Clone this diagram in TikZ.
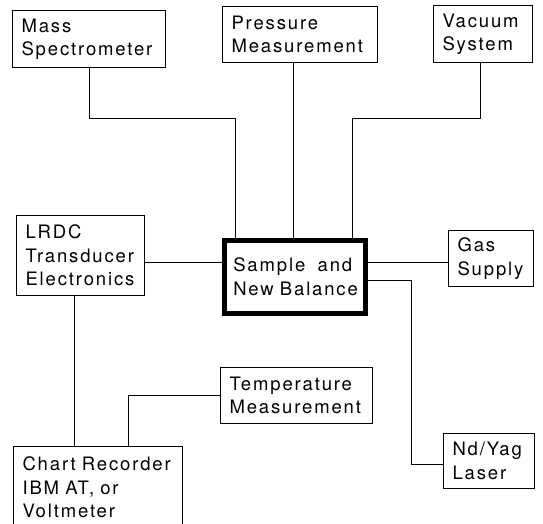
\documentclass[tikz,border=0pt]{standalone}
\usepackage{fontspec}
\newfontfamily\boxfont{TeX Gyre Heros}[LetterSpace=10]
\usetikzlibrary{positioning}

\begin{document}
\begin{tikzpicture}[x=1pt, y=-1pt,
  unit/.style={draw, line width=1.1pt, anchor=north west, align=left,
    inner xsep=9pt, inner ysep=0pt, font=\boxfont\fontsize{18.5}{23.5}\selectfont},
  core/.style={unit, line width=4.5pt},
  wire/.style={line width=1.1pt}]

  \useasboundingbox (0,0) rectangle (543,523);

  % --- Top row ---
  \node[unit, text width=135pt, minimum height=57pt] (mass) at (12,10) {Mass\\Spectrometer};
  \node[unit, text width=137pt, minimum height=56pt] (press) at (222,6) {Pressure\\Measurement};
  \node[unit, text width=81pt, minimum height=57pt] (vac) at (433,5) {Vacuum\\System};

  % --- Middle row ---
  \node[unit, text width=110pt, minimum height=80pt] (lrdc) at (16,215) {LRDC\\Transducer\\Electronics};
  \node[core, text width=123pt, minimum height=73pt] (sample) at (222,238) {Sample\ \ and\\New Balance};
  \node[unit, text width=67pt, minimum height=56pt] (gas) at (448,230) {Gas\\Supply};

  % --- Bottom ---
  \node[unit, text width=134pt, minimum height=56pt] (temp) at (220,367) {Temperature\\Measurement};
  \node[unit, text width=73pt, minimum height=55pt] (laser) at (443,433) {Nd/Yag\\Laser};
  \node[unit, text width=151pt, minimum height=82pt] (chart) at (13,446) {Chart Recorder\\IBM AT, or\\Voltmeter};

  % --- Connections to the balance ---
  \draw[wire] (mass.south) -- ++(0,50) -| ([xshift=-59.5pt]sample.north);
  \draw[wire] ([xshift=-6.5pt]press.south) -- ([xshift=-6.5pt]press.south |- sample.north);
  \draw[wire] ([xshift=-2.5pt]vac.south) -- ++(0,55) -| ([xshift=57.5pt]sample.north);
  \draw[wire] ([yshift=-7pt]lrdc.east) -- ([yshift=-7pt]lrdc.east -| sample.west);
  \draw[wire] ([yshift=-4pt]gas.west -| sample.east) -- ([yshift=-4pt]gas.west);
  \draw[wire] ([yshift=-4pt]sample.east) -- ++(44,0) |- ([yshift=-3pt]laser.west);

  % --- Recorder side ---
  \draw[wire] ([xshift=-6.5pt]lrdc.south) -- ([xshift=-6.5pt]lrdc.south |- chart.north);
  \draw[wire] (temp.west) -| ([xshift=30.5pt]chart.north);

\end{tikzpicture}
\end{document}
